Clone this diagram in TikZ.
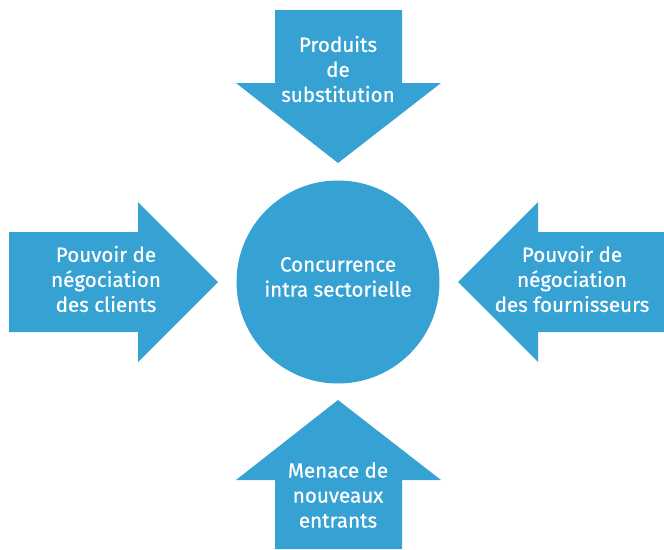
\documentclass[tikz,border=0pt]{standalone}
\usepackage{fontspec}
\setmainfont{Fira Sans}[FakeBold=0.6]
\definecolor{porter}{RGB}{54,161,211}
\begin{document}
\begin{tikzpicture}[x=1pt,y=-1pt,
  shapefill/.style={fill=porter,draw=none},
  lbl/.style={text=white,align=center,font=\fontsize{20.6}{25}\selectfont,inner sep=0pt}]
\useasboundingbox (0,0) rectangle (664,549);
% top arrow
\fill[porter] (275,10) -- (402,10) -- (402,83) -- (441,83) -- (338,163) -- (236,83) -- (275,83) -- cycle;
% left arrow
\fill[porter] (9,232) -- (138,232) -- (138,202) -- (218,282) -- (138,362) -- (138,332) -- (9,332) -- cycle;
% right arrow
\fill[porter] (664,232) -- (538,232) -- (538,202) -- (458,282) -- (538,362) -- (538,332) -- (664,332) -- cycle;
% bottom arrow
\fill[porter] (275,549) -- (402,549) -- (402,480) -- (441,480) -- (338,400) -- (236,480) -- (275,480) -- cycle;
% circle
\node[shapefill,circle,minimum size=203pt,inner sep=0pt] (center) at (338,282) {};
\node[lbl] (centertxt) at (338,277) {Concurrence\\intra sectorielle};
\node[lbl] (top) at (338,69) {Produits\\de\\substitution};
\node[lbl] (left) at (106,279) {Pouvoir de\\négociation\\des clients};
\node[lbl] (right) at (572,279) {Pouvoir de\\négociation\\des fournisseurs};
\node[lbl] (bottom) at (338,495) {Menace de\\nouveaux\\entrants};
\end{tikzpicture}
\end{document}
